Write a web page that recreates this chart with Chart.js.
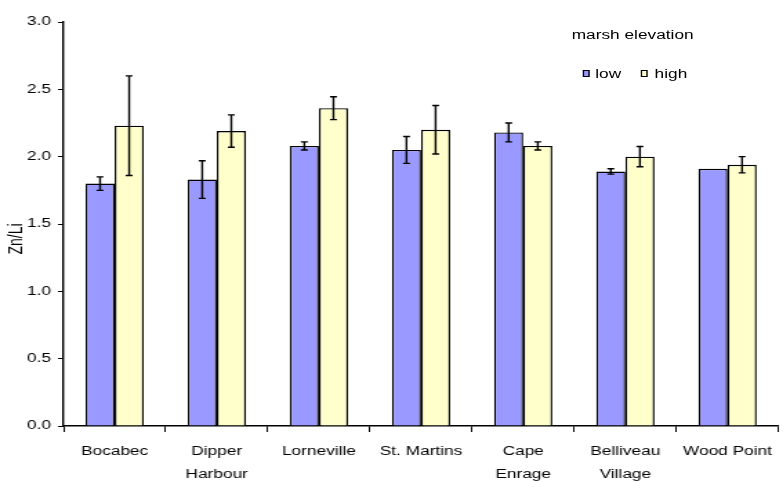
<!DOCTYPE html>
<html>
<head>
<meta charset="utf-8">
<script src="https://cdn.jsdelivr.net/npm/chart.js@4"></script>
<style>
  body { margin: 0; background: #fff; overflow: hidden; }
  /* the original picture is stretched sideways, so draw narrow and stretch */
  #wrap { position: relative; width: 567px; height: 482px; transform: scaleX(1.381); transform-origin: 0 0; }
  #legenda { position: absolute; left: 0; top: 0; font: 12.5px "Liberation Sans", Arial, sans-serif; color: #000; }
  #legenda span { position: absolute; white-space: nowrap; line-height: 14px; }
  .caja { width: 3px; height: 5px; border: 1.5px solid #000; }
</style>
</head>
<body>
<div id="wrap">
  <canvas id="grafico" width="567" height="482"></canvas>
  <div id="legenda">
    <span style="left:414px; top:28px">marsh elevation</span>
    <span class="caja" style="left:422px; top:70px; background:#9999ff"></span>
    <span style="left:431px; top:67px">low</span>
    <span class="caja" style="left:464px; top:70px; background:#ffffcc"></span>
    <span style="left:474px; top:67px">high</span>
  </div>
</div>
<script>
const sitios = ["Bocabec", ["Dipper", "Harbour"], "Lorneville", "St. Martins", ["Cape", "Enrage"], ["Belliveau", "Village"], "Wood Point"]
const bajo = [1.80, 1.83, 2.08, 2.05, 2.18, 1.89, 1.91]
const bajoError = [0.05, 0.14, 0.03, 0.10, 0.07, 0.02, 0]
const alto = [2.23, 2.19, 2.36, 2.20, 2.08, 2.00, 1.94]
const altoError = [0.37, 0.12, 0.085, 0.18, 0.03, 0.075, 0.06]
const ticksY = [0, 0.5, 1.0, 1.5, 2.0, 2.5, 3.0]
const tituloY = "Zn/Li"

const fuente = { family: "'Liberation Sans', Arial, sans-serif", size: 12.5 }

// barras de error, dibujadas con las escalas del grafico
const barrasError = {
  id: "barrasError",
  afterDatasetsDraw(chart) {
    const ctx = chart.ctx
    const y = chart.scales.y
    const errores = [bajoError, altoError]
    ctx.save()
    ctx.strokeStyle = "#000"
    ctx.lineWidth = 1.4
    chart.data.datasets.forEach((ds, i) => {
      const meta = chart.getDatasetMeta(i)
      meta.data.forEach((barra, j) => {
        const e = errores[i][j]
        if (!e) return
        const x = barra.x
        const arriba = y.getPixelForValue(ds.data[j] + e)
        const abajo = y.getPixelForValue(ds.data[j] - e)
        ctx.beginPath()
        ctx.moveTo(x, arriba); ctx.lineTo(x, abajo)
        ctx.moveTo(x - 2.5, arriba); ctx.lineTo(x + 2.5, arriba)
        ctx.moveTo(x - 2.5, abajo); ctx.lineTo(x + 2.5, abajo)
        ctx.stroke()
      })
    })
    ctx.restore()
  }
}

// titulo del eje y (un poco por debajo del centro, como en el original)
const tituloEje = {
  id: "tituloEje",
  afterDraw(chart) {
    const ctx = chart.ctx
    ctx.save()
    ctx.translate(12, 239)
    ctx.rotate(-Math.PI / 2)
    ctx.font = "14px 'Liberation Sans', Arial, sans-serif"
    ctx.fillStyle = "#000"
    ctx.textAlign = "center"
    ctx.textBaseline = "middle"
    ctx.fillText(tituloY, 0, 0)
    ctx.restore()
  }
}

const config = {
  type: "bar",
  data: {
    labels: sitios,
    datasets: [
      { label: "low", data: bajo, backgroundColor: "#9999ff", borderColor: "#000", borderWidth: 1.4 },
      { label: "high", data: alto, backgroundColor: "#ffffcc", borderColor: "#000", borderWidth: 1.4 }
    ]
  },
  options: {
    responsive: false,
    animation: false,
    layout: { padding: { top: 22, right: 0, left: 0, bottom: 0 } },
    datasets: { bar: { categoryPercentage: 0.57, barPercentage: 1 } },
    plugins: { legend: { display: false }, tooltip: { enabled: false } },
    scales: {
      x: {
        grid: { display: true, drawOnChartArea: false, color: "#000", tickLength: 6, offset: true },
        border: { color: "#000", width: 1.4 },
        ticks: { color: "#000", font: { ...fuente, lineHeight: 1.85 }, maxRotation: 0, autoSkip: false, padding: 8 },
        afterFit: (s) => { s.height = 56 }
      },
      y: {
        min: 0, max: 3,
        afterBuildTicks: (s) => { s.ticks = ticksY.map(v => ({ value: v })) },
        grid: { display: true, drawOnChartArea: false, color: "#000", tickLength: 4 },
        border: { color: "#000", width: 1.4 },
        ticks: { color: "#000", font: fuente, padding: 5, callback: (v) => v.toFixed(1) },
        afterFit: (s) => { s.width = 46 }
      }
    }
  },
  plugins: [barrasError, tituloEje]
}

new Chart(document.getElementById("grafico"), config)
</script>
</body>
</html>
